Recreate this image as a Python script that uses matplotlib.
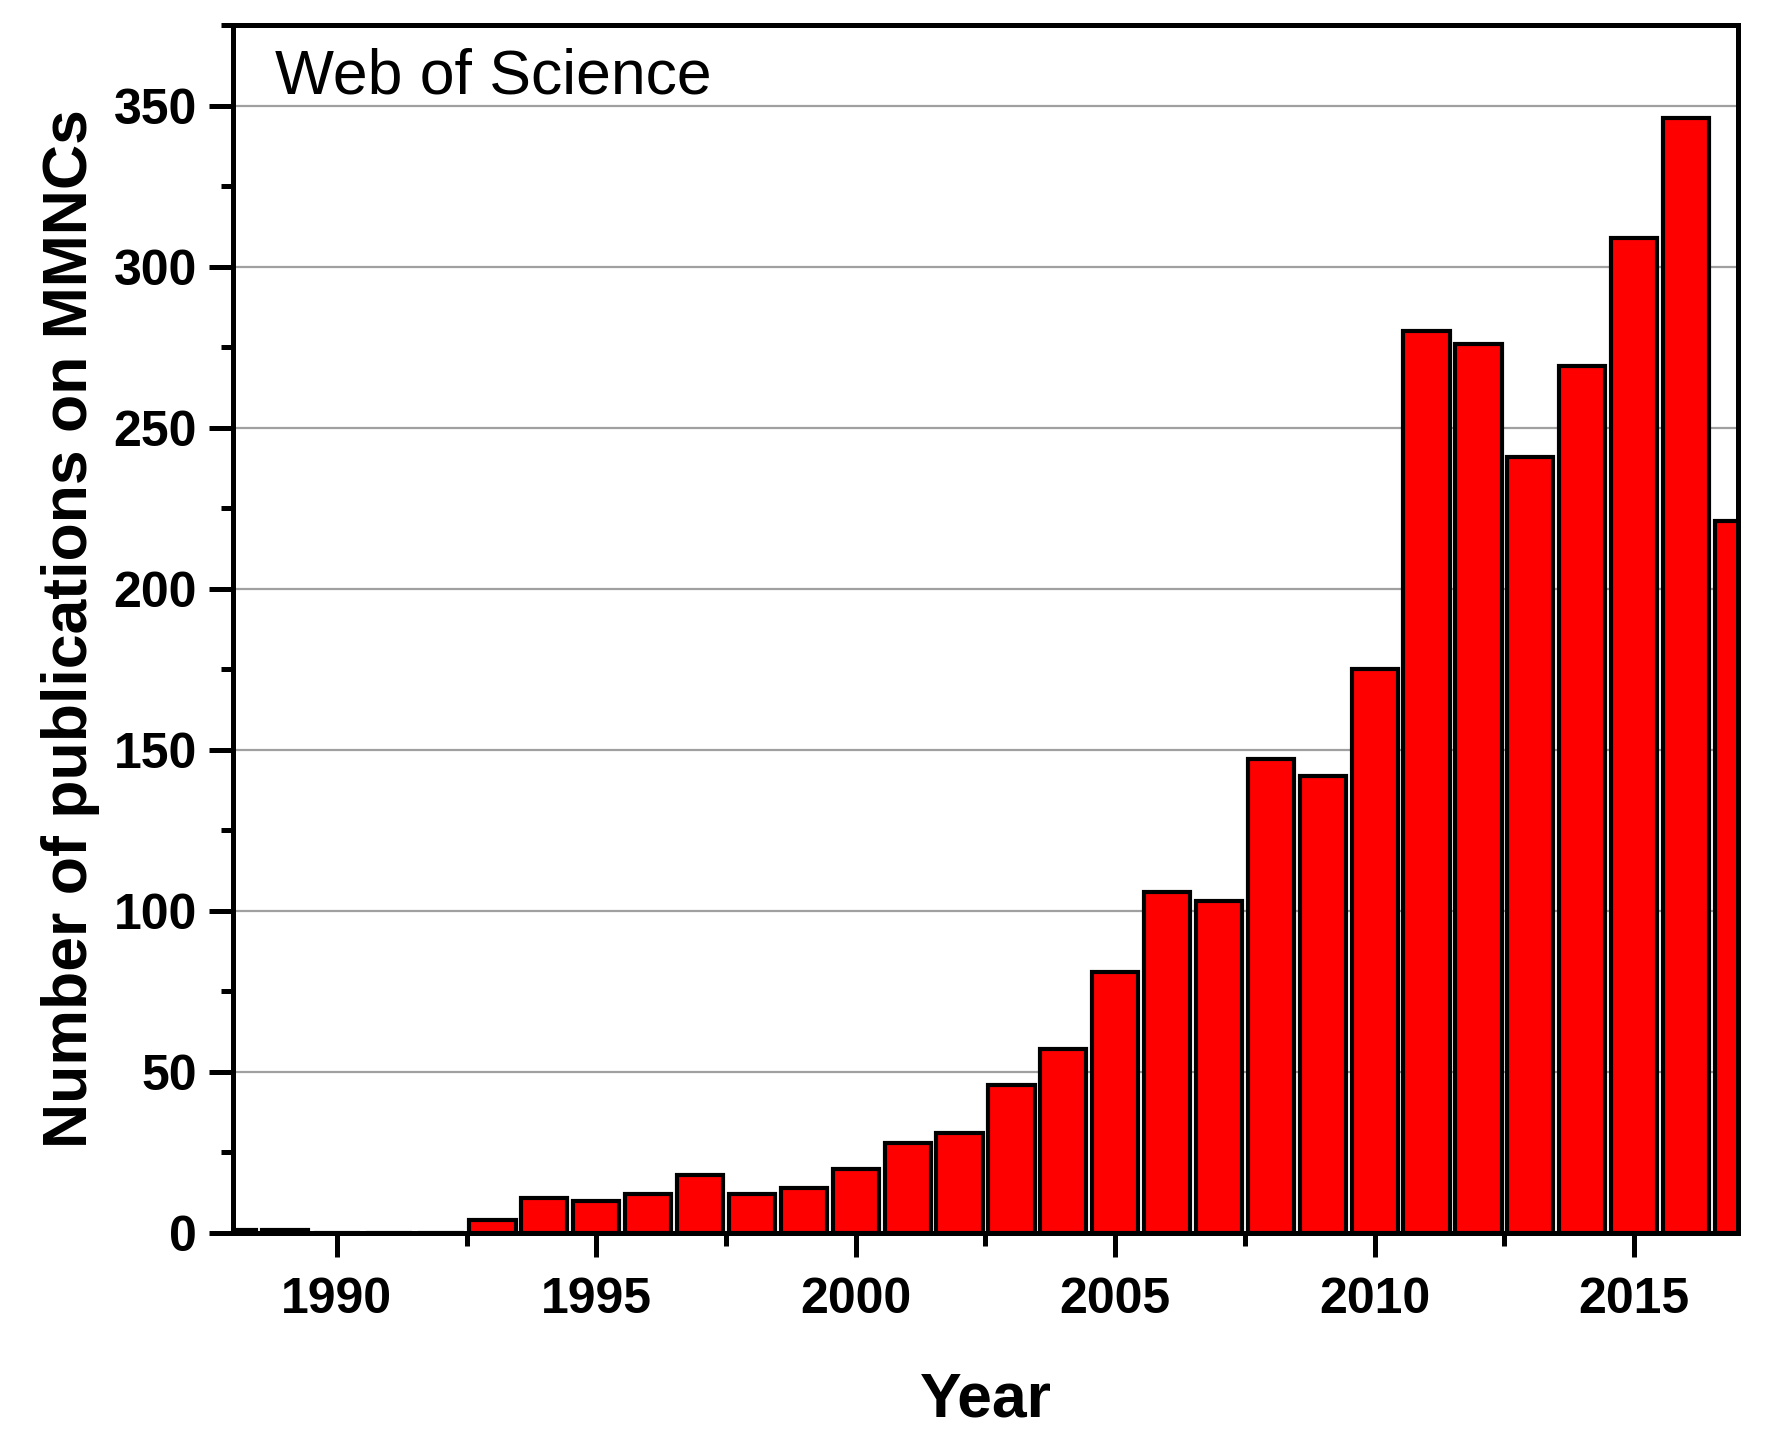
import matplotlib
matplotlib.use("Agg")
import matplotlib.pyplot as plt
from matplotlib.ticker import MultipleLocator

plt.rcParams["font.family"] = ["Liberation Sans", "DejaVu Sans"]

# publications per year (Web of Science search on MMNCs)
years = [1988, 1989, 1990, 1991, 1992, 1993, 1994, 1995, 1996, 1997,
         1998, 1999, 2000, 2001, 2002, 2003, 2004, 2005, 2006, 2007,
         2008, 2009, 2010, 2011, 2012, 2013, 2014, 2015, 2016, 2017]
counts = [1, 1, 0, 0, 0, 4, 11, 10, 12, 18,
          12, 14, 20, 28, 31, 46, 57, 81, 106, 103,
          147, 142, 175, 280, 276, 241, 269, 309, 346, 221]

fig = plt.figure(figsize=(17.68, 14.39), dpi=100)
ax = fig.add_axes([0.1318, 0.1432, 0.8512, 0.8394])

ax.bar(years, counts, width=0.89, color="#ff0000", edgecolor="black",
       linewidth=3.0, zorder=3)

ax.set_xlim(1988, 2017)
ax.set_ylim(0, 375)

ax.xaxis.set_major_locator(MultipleLocator(5))
ax.xaxis.set_minor_locator(MultipleLocator(2.5))
ax.yaxis.set_major_locator(MultipleLocator(50))
ax.yaxis.set_minor_locator(MultipleLocator(25))

ax.grid(axis="y", which="major", color="#a0a0a0", linewidth=1.6, zorder=0)
ax.set_axisbelow(True)

for side in ["left", "right", "top", "bottom"]:
    ax.spines[side].set_linewidth(3.6)
    ax.spines[side].set_zorder(5)

ax.tick_params(which="both", direction="out", top=False, right=False,
               width=3.6)
ax.tick_params(which="major", length=17)
ax.tick_params(which="minor", length=9)
ax.tick_params(axis="x", which="major", pad=15)
ax.tick_params(axis="y", which="major", pad=9)

for lbl in ax.get_xticklabels() + ax.get_yticklabels():
    lbl.set_fontsize(36)
    lbl.set_fontweight("bold")

ax.set_xlabel("Year", fontsize=45, fontweight="bold", labelpad=34)
ax.set_ylabel("Number of publications on MMNCs", fontsize=45,
              fontweight="bold", labelpad=10)

ax.text(0.028, 0.9437, "Web of Science", transform=ax.transAxes,
        fontsize=45, va="baseline", ha="left", zorder=6)

fig.savefig("out.png", dpi=100)
